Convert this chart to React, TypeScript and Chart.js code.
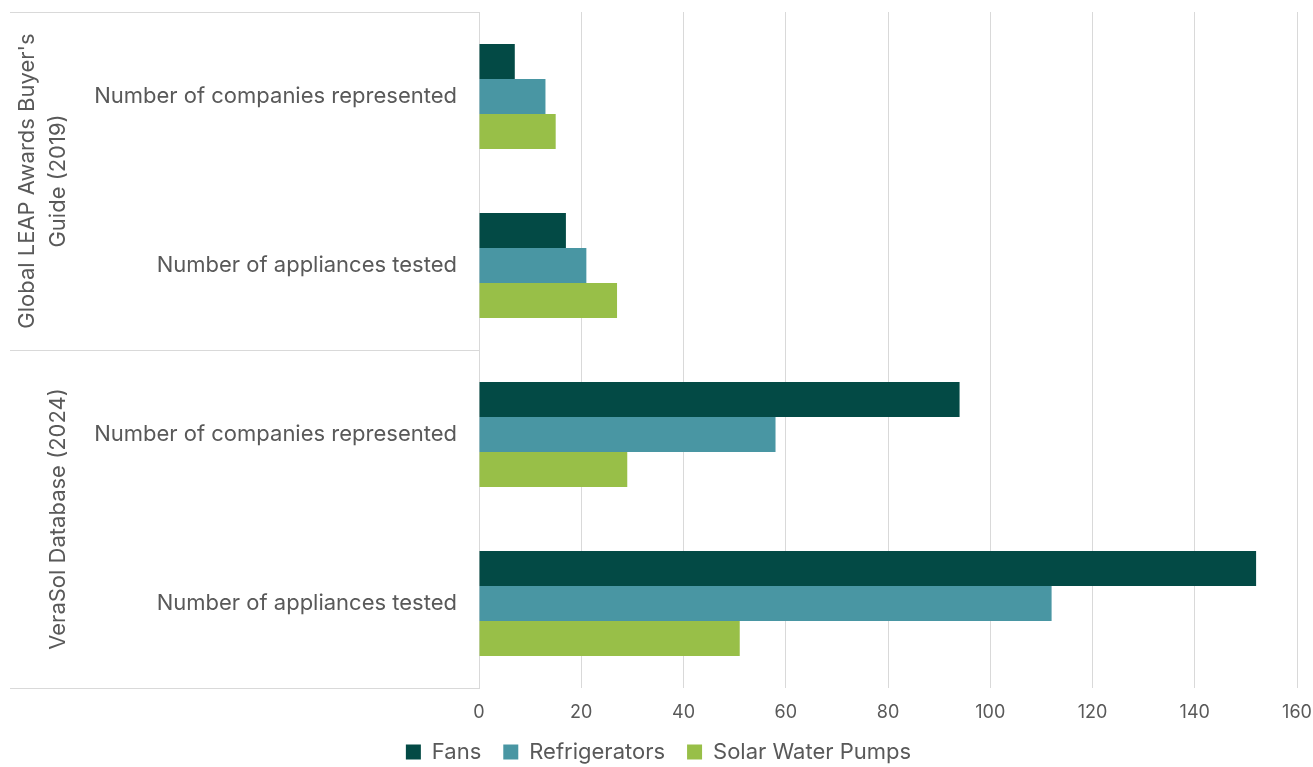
import React, { useEffect, useRef } from 'react';
import { Chart, registerables } from 'chart.js';

Chart.register(...registerables);

const categories = [
  'Number of companies represented',
  'Number of appliances tested',
  'Number of companies represented',
  'Number of appliances tested',
];
const groupLabels = [["Global LEAP Awards Buyer's", 'Guide (2019)'], ['VeraSol Database (2024)']];
const groupSizes = [2, 2];
const seriesNames = ['Fans', 'Refrigerators', 'Solar Water Pumps'];
const fans = [7, 17, 94, 152];
const refrigerators = [13, 21, 58, 112];
const solarWaterPumps = [15, 27, 29, 51];
const xMin = 0;
const xMax = 160;
const xStep = 20;

const COLORS = ['#034a45', '#4996a3', '#98bf48'];
const TEXT = '#595959';
const GRID = '#d9d9d9';
const FONT = 'Inter, "Open Sans", sans-serif';

const groupPlugin = {
  id: 'groupLabels',
  afterDraw(chart: any) {
    const { ctx, chartArea, scales } = chart;
    const y = scales.y;
    const n = categories.length;
    ctx.save();
    ctx.strokeStyle = GRID;
    ctx.lineWidth = 1;
    let start = 0;
    const lines: number[] = [chartArea.top];
    groupSizes.forEach((size, gi) => {
      const end = start + size - 1;
      const top = start === 0 ? chartArea.top : (y.getPixelForValue(start - 1) + y.getPixelForValue(start)) / 2;
      const bottom = end === n - 1 ? chartArea.bottom : (y.getPixelForValue(end) + y.getPixelForValue(end + 1)) / 2;
      lines.push(bottom);
      const mid = (top + bottom) / 2;
      const labelLines = groupLabels[gi];
      ctx.fillStyle = TEXT;
      ctx.font = `22px ${FONT}`;
      ctx.textAlign = 'center';
      ctx.textBaseline = 'middle';
      labelLines.forEach((txt, li) => {
        const x = 58 - (labelLines.length - 1 - li) * 31;
        ctx.save();
        ctx.translate(x, mid);
        ctx.rotate(-Math.PI / 2);
        ctx.fillText(txt, 0, 0);
        ctx.restore();
      });
      start = end + 1;
    });
    lines.forEach((ly) => {
      const yy = Math.round(ly) + 0.5;
      ctx.beginPath();
      ctx.moveTo(10, yy);
      ctx.lineTo(chartArea.left, yy);
      ctx.stroke();
    });
    ctx.restore();
  },
};

export default function App() {
  const ref = useRef<HTMLCanvasElement>(null);
  useEffect(() => {
    if (!ref.current) return;
    const chart = new Chart(ref.current, {
      type: 'bar',
      data: {
        labels: categories,
        datasets: [fans, refrigerators, solarWaterPumps].map((d, i) => ({
          label: seriesNames[i],
          data: d,
          backgroundColor: COLORS[i],
          borderWidth: 0,
          categoryPercentage: 0.62,
          barPercentage: 1,
        })),
      },
      options: {
        indexAxis: 'y',
        animation: false,
        responsive: true,
        maintainAspectRatio: false,
        layout: { padding: { top: 12, right: 16, left: 20, bottom: 0 } },
        plugins: {
          tooltip: { enabled: false },
          legend: {
            position: 'bottom',
            labels: {
              boxWidth: 15,
              boxHeight: 15,
              padding: 22,
              color: TEXT,
              font: { size: 22, family: FONT },
            },
          },
        },
        scales: {
          x: {
            min: xMin,
            max: xMax,
            ticks: { stepSize: xStep, color: TEXT, padding: 14, font: { size: 18, family: FONT } },
            grid: { color: GRID, drawTicks: false },
            border: { display: false },
            afterFit: (s: any) => {
              s.height = 31;
              s.paddingLeft = 0;
              s.paddingRight = 0;
            },
          },
          y: {
            afterFit: (s: any) => {
              s.width = 459;
              s.paddingTop = 0;
              s.paddingBottom = 0;
            },
            ticks: { color: TEXT, padding: 22, font: { size: 22, family: FONT } },
            grid: { display: false, drawTicks: false },
            border: { display: true, color: GRID },
          },
        },
      },
      plugins: [groupPlugin],
    });
    return () => chart.destroy();
  }, []);
  return (
    <div style={{ position: 'fixed', left: 0, top: 0, width: 1313, height: 773, background: '#fff' }}>
      <canvas ref={ref} />
    </div>
  );
}
